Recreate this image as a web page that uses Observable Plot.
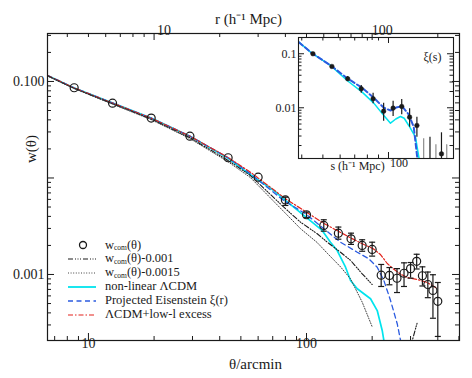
<!DOCTYPE html>
<html><head><meta charset="utf-8">
<script src="https://cdn.jsdelivr.net/npm/d3@7"></script>
<script src="https://cdn.jsdelivr.net/npm/@observablehq/plot@0.6"></script>
<style>
body{margin:0;background:#fff;}
#wrap{position:relative;width:472px;height:378px;font-family:"Liberation Serif",serif;color:#1a1a1a;}
#wrap svg{position:absolute;left:0;top:0;}
.row{position:absolute;left:67px;height:13px;display:flex;align-items:center;white-space:nowrap;font-size:12.5px;line-height:13px;color:#1a1a1a;}
.row svg{position:static !important;}
.row span{margin-left:8px;}
.row .sb{font-size:7.5px;line-height:7px;position:relative;top:1.5px;margin-left:0;color:#1a1a1a;}
</style></head><body><div id="wrap"></div>
<script>
// ---------- main panel data: w(theta) ----------
const thetaArcmin = [8.6,12.9,19.4,29.2,43.7,60,80,100,120,140,160,180,200,220,240,260,280,300,320,340,360,380,400];
const wCom = [0.0861,0.0596,0.0417,0.0271,0.0162,0.0102,0.00592,0.00416,0.00322,0.00268,0.00234,0.0020,0.00182,0.000984,0.000977,0.000914,0.00103,0.00115,0.00137,0.00097,0.000787,0.000683,0.000527];
const wErrLow = [null,null,null,null,null,null,0.00519,0.00388,0.00281,0.00232,0.00205,0.00174,0.00155,0.000751,0.000782,0.00065,0.000751,0.000916,0.00114,0.00076,0.000575,0.000352,0.000228];
const wErrHigh = [null,null,null,null,null,null,0.00632,0.00443,0.00369,0.0031,0.00268,0.00229,0.00216,0.00127,0.00118,0.00115,0.00132,0.00133,0.00162,0.0012,0.00106,0.000994,0.000826];

// non-linear LCDM
const lcdmTheta = [6.49,8.56,12.93,19.4,29.2,43.7,55.3,70.8,80.1,97.2,118,128.8,138.3,151,159.2,170.9,183.2,196.6,211,222.4,230.3];
const lcdmW = [0.1154,0.0861,0.0596,0.0417,0.0271,0.0160,0.0108,0.00742,0.00585,0.00409,0.00286,0.00216,0.00177,0.00119,0.000867,0.000711,0.000631,0.00056,0.000423,0.000263,0.000163];
// projected Eisenstein xi(r)
const eisTheta = [6.49,8.56,12.93,19.4,29.2,43.7,55.3,78.5,98.9,120,143.2,170.9,193.1,211,226.3,242.8,260.6,270,275.6];
const eisW = [0.1154,0.0861,0.0596,0.0417,0.0271,0.0162,0.01105,0.00585,0.00426,0.00298,0.00216,0.0017,0.001455,0.00119,0.000867,0.000538,0.000309,0.000207,0.000163];
// LCDM + low-l excess
const excessTheta = [6.49,8.56,12.93,19.4,29.2,43.7,55.3,80.1,100,120.9,139.8,159.2,180.1,202.3,218.4,234.5,251.5,270,289.7,322,357.8,397.6];
const excessW = [0.1154,0.0861,0.0596,0.0417,0.0271,0.0163,0.01148,0.00609,0.00442,0.00335,0.00281,0.0024,0.00208,0.00185,0.00161,0.0013,0.00113,0.00101,0.00093,0.000888,0.000826,0.000716];
// w_com - 0.001 (two visible pieces)
const minus001Theta = [6.49,8.56,12.93,19.4,29.2,43.7,55.3,78.7,93.9,112,124.5,143.2,159.2,180.1,200.1];
const minus001W = [0.1144,0.0851,0.0586,0.0407,0.0261,0.0152,0.0106,0.00498,0.00348,0.00264,0.00216,0.0017,0.0014,0.001016,0.000787];
const minus001bTheta = [300,305.5,322];
const minus001bW = [0.000163,0.000207,0.000318];
// w_com - 0.0015
const minus0015Theta = [6.49,8.56,12.93,19.4,29.2,43.7,55.3,78.7,93.9,112,124.5,143.2,159.2,180.1,200.1];
const minus0015W = [0.1139,0.0846,0.0581,0.0402,0.0256,0.0147,0.0101,0.00448,0.00298,0.00214,0.00166,0.0012,0.0009,0.000516,0.000287];

// axis labels
const xTickValues = [10,100];
const rTickValues = [10,100];
const yTickValues = [0.1,0.001];
const yTickLabels = ["0.100","0.001"];
const thetaPerR = 2.0; // arcmin per h^-1 Mpc (top axis)

// ---------- inset data: xi(s) ----------
const sMpc = [45,55,65,75,85,95,105,115,125,135,175];
const xiS = [0.1,0.0582,0.0344,0.0225,0.0147,0.00865,0.00985,0.01057,0.0067,0.0047,0.0014];
const xiLow = [null,null,0.0311,0.0186,0.01186,0.00565,0.0069,0.0074,0.00438,0.00286,null];
const xiHigh = [null,null,0.038,0.0259,0.0186,0.01216,0.01324,0.01426,0.00957,0.0067,null];
const sUpper = [145,155,165,175,185];
const xiUpperTop = [0.00267,0.00286,0.00207,0.00344,0.00207];
const upperKind = ["light","dark","light","dark","light"];
const insetLcdmS = [38.8,44.3,54.2,64.6,75.7,85.6,95.2,102.1,108,113.5,118,123.9,133,137.8,139.5];
const insetLcdmXi = [0.164,0.104,0.0607,0.032,0.0195,0.0122,0.0072,0.00519,0.0062,0.0069,0.0064,0.0047,0.00286,0.00122,0.0009];
const insetEisS = [38.8,44.3,54.2,64.6,75.7,85.6,95.2,102.1,109.6,115.6,123.9,130.6,135.4,136.5];
const insetEisXi = [0.164,0.104,0.061,0.0353,0.0234,0.0153,0.010,0.0089,0.01026,0.01057,0.0075,0.00438,0.00122,0.0009];
const insetTickValues = [0.1,0.01];
const insetTickLabels = ["0.1","0.01"];

// ---------- helpers ----------
const zip = (xs, ys) => xs.map((x,i) => ({x, y: ys[i]}));
function logTicks(lo, hi){
  const out=[];
  for(let e=-6;e<=4;e++) for(let m=1;m<=9;m++){
    const v = +(m*Math.pow(10,e)).toPrecision(6);
    if(v>lo*1.0001 && v<hi/1.0001) out.push({v, major: m===1});
  }
  return out;
}
const cap = {draw(ctx){ctx.moveTo(-3,0);ctx.lineTo(3,0);}};
const ink = "#1a1a1a";
const cCyan="#00e4ee", cBlue="#2b5be0", cRed="#e3231c";
const FONT = "Liberation Serif";

const W=472, H=378;
// main
const mL=47, mR=13, mT=33, mB=38;
const pw=W-mL-mR, ph=H-mT-mB;
const xDomain=[6.49,503], yDomain=[0.000207,0.314];
const xt = logTicks(xDomain[0], xDomain[1]);
const rt = logTicks(xDomain[0]/thetaPerR, xDomain[1]/thetaPerR).map(d=>({v:d.v*thetaPerR, major:d.major}));
const yt = logTicks(yDomain[0], yDomain[1]);
const pts = thetaArcmin.map((t,i)=>({x:t, y:wCom[i], lo:wErrLow[i], hi:wErrHigh[i]}));
const errs = pts.filter(d=>d.lo!=null);

function tickMarks(xtk, ytk, topTk, pwid, phei, maj, mnr){
  const M=xtk.filter(d=>d.major), m=xtk.filter(d=>!d.major);
  const TM=topTk.filter(d=>d.major), Tm=topTk.filter(d=>!d.major);
  const YM=ytk.filter(d=>d.major), Ym=ytk.filter(d=>!d.major);
  const o={stroke:ink, strokeWidth:1};
  return [
    Plot.ruleX(M,{x:"v",insetTop:phei-maj,...o}),
    Plot.ruleX(m,{x:"v",insetTop:phei-mnr,...o}),
    Plot.ruleX(TM,{x:"v",insetBottom:phei-maj,...o}),
    Plot.ruleX(Tm,{x:"v",insetBottom:phei-mnr,...o}),
    Plot.ruleY(YM,{y:"v",insetRight:pwid-maj,...o}),
    Plot.ruleY(Ym,{y:"v",insetRight:pwid-mnr,...o}),
    Plot.ruleY(YM,{y:"v",insetLeft:pwid-maj,...o}),
    Plot.ruleY(Ym,{y:"v",insetLeft:pwid-mnr,...o})
  ];
}

const main = Plot.plot({
  width:W, height:H, marginLeft:mL, marginRight:mR, marginTop:mT, marginBottom:mB,
  style:{background:"transparent", fontFamily:FONT, color:ink},
  x:{type:"log", domain:xDomain, axis:null},
  y:{type:"log", domain:yDomain, axis:null},
  marks:[
    Plot.line(zip(lcdmTheta,lcdmW),{x:"x",y:"y",stroke:cCyan,strokeWidth:1.7,clip:true}),
    Plot.line(zip(eisTheta,eisW),{x:"x",y:"y",stroke:cBlue,strokeWidth:1.3,strokeDasharray:"5,3.5",clip:true}),
    Plot.line(zip(excessTheta,excessW),{x:"x",y:"y",stroke:cRed,strokeWidth:1.2,strokeDasharray:"5,2,1.5,2",clip:true}),
    Plot.line(zip(minus001Theta,minus001W),{x:"x",y:"y",stroke:ink,strokeWidth:1.1,strokeDasharray:"5,2,1,1.5,1,1.5,1,2",clip:true}),
    Plot.line(zip(minus001bTheta,minus001bW),{x:"x",y:"y",stroke:ink,strokeWidth:1.1,strokeDasharray:"5,2,1,1.5,1,1.5,1,2",clip:true}),
    Plot.line(zip(minus0015Theta,minus0015W),{x:"x",y:"y",stroke:"#444",strokeWidth:1,strokeDasharray:"1,1.6",clip:true}),
    Plot.ruleX(errs,{x:"x",y1:"lo",y2:"hi",stroke:ink,strokeWidth:1.2,clip:true}),
    Plot.dot(errs,{x:"x",y:"lo",symbol:cap,stroke:ink,strokeWidth:1.2,fill:"none"}),
    Plot.dot(errs,{x:"x",y:"hi",symbol:cap,stroke:ink,strokeWidth:1.2,fill:"none"}),
    Plot.dot(pts,{x:"x",y:"y",r:4,stroke:ink,strokeWidth:1.2,fill:"none"}),
    Plot.frame({stroke:ink,strokeWidth:1.2}),
    ...tickMarks(xt, yt, rt, pw, ph, 7, 4),
    Plot.text(xTickValues,{x:d=>d,text:d=>String(d),frameAnchor:"bottom",dy:7,fontSize:14,fill:ink}),
    Plot.text(rTickValues,{x:d=>d*thetaPerR,text:d=>String(d),frameAnchor:"top",dy:-8.5,dx:10,fontSize:14,fill:ink}),
    Plot.text(yTickValues,{y:d=>d,text:(d,i)=>yTickLabels[i],frameAnchor:"left",textAnchor:"end",dx:-3,fontSize:14,fill:ink}),
    Plot.text(["θ/arcmin"],{frameAnchor:"bottom",dy:28,dx:2,fontSize:15,fill:ink}),
    Plot.text(["r (h⁻¹ Mpc)"],{frameAnchor:"top",dy:-20,dx:-5,fontSize:15,fill:ink}),
    Plot.text(["w(θ)"],{frameAnchor:"left",dx:-16,dy:-24,rotate:-90,fontSize:15,fill:ink})
  ]
});

// inset
const iL=298, iR=19, iT=37, iB=220;
const ipw=W-iL-iR, iph=H-iT-iB;
const sDomain=[38.65,198.7], xiDomain=[0.00115,0.2];
const ixt=logTicks(sDomain[0],sDomain[1]);
const iyt=logTicks(xiDomain[0],xiDomain[1]);
const ipts=sMpc.map((s,i)=>({x:s,y:xiS[i],lo:xiLow[i],hi:xiHigh[i]}));
const upper=sUpper.map((s,i)=>({x:s,top:xiUpperTop[i],kind:upperKind[i]}));
const inset = Plot.plot({
  width:W, height:H, marginLeft:iL, marginRight:iR, marginTop:iT, marginBottom:iB,
  style:{background:"transparent", fontFamily:FONT, color:ink},
  x:{type:"log", domain:sDomain, axis:null},
  y:{type:"log", domain:xiDomain, axis:null},
  marks:[
    Plot.frame({fill:"white"}),
    Plot.ruleX(upper,{x:"x",y1:xiDomain[0],y2:"top",stroke:d=>d.kind==="dark"?ink:"#8c8c8c",strokeWidth:1.2}),
    Plot.line(zip(insetLcdmS,insetLcdmXi),{x:"x",y:"y",stroke:cCyan,strokeWidth:1.5,clip:true}),
    Plot.line(zip(insetEisS,insetEisXi),{x:"x",y:"y",stroke:cBlue,strokeWidth:2,strokeDasharray:"5,3",clip:true}),
    Plot.ruleX(ipts.filter(d=>d.lo!=null),{x:"x",y1:"lo",y2:"hi",stroke:ink,strokeWidth:1.2}),
    Plot.dot(ipts,{x:"x",y:"y",r:2.3,fill:ink,stroke:ink,strokeWidth:0.5}),
    Plot.frame({stroke:ink,strokeWidth:1.1}),
    ...tickMarks(ixt, iyt, ixt, ipw, iph, 6, 3.5),
    Plot.text(insetTickValues,{y:d=>d,text:(d,i)=>insetTickLabels[i],frameAnchor:"left",textAnchor:"end",dx:-2,fontSize:12,fill:ink}),
    Plot.text([100],{x:d=>d,text:d=>String(d),frameAnchor:"bottom",dy:8.5,dx:10.5,fontSize:12,fill:ink}),
    Plot.text(["s (h⁻¹ Mpc)"],{frameAnchor:"bottom",dy:11,dx:-18.5,fontSize:12,fill:ink}),
    Plot.text(["ξ(s)"],{frameAnchor:"top-right",dy:15,dx:-21,textAnchor:"middle",fontSize:12,fill:ink})
  ]
});

const wrap=document.getElementById("wrap");
wrap.appendChild(inset);
wrap.appendChild(main);

// legend
const legendItems = [
  {html:"w<span class='sb'>com</span>(θ)", kind:"circle"},
  {html:"w<span class='sb'>com</span>(θ)-0.001", kind:"line", stroke:ink, dash:"5,2,1,1.5,1,1.5,1,2", w:1.1},
  {html:"w<span class='sb'>com</span>(θ)-0.0015", kind:"line", stroke:"#444", dash:"1,1.6", w:1},
  {html:"non-linear ΛCDM", kind:"line", stroke:cCyan, dash:null, w:1.8},
  {html:"Projected Eisenstein ξ(r)", kind:"line", stroke:cBlue, dash:"5,3.5", w:1.3},
  {html:"ΛCDM+low-l excess", kind:"line", stroke:cRed, dash:"5,2,1.5,2", w:1.2}
];
legendItems.forEach((it,i)=>{
  const row=document.createElement("div");
  row.className="row";
  row.style.top=(238.5+i*13.9)+"px";
  const sym = it.kind==="circle"
    ? `<svg width="30" height="10"><circle cx="16" cy="5" r="3.5" fill="none" stroke="${ink}" stroke-width="1.3"/></svg>`
    : `<svg width="30" height="10"><line x1="1" y1="5" x2="29" y2="5" stroke="${it.stroke}" stroke-width="${it.w}" ${it.dash?`stroke-dasharray="${it.dash}"`:""}/></svg>`;
  row.innerHTML = sym + `<span>${it.html}</span>`;
  wrap.appendChild(row);
});
</script></body></html>
